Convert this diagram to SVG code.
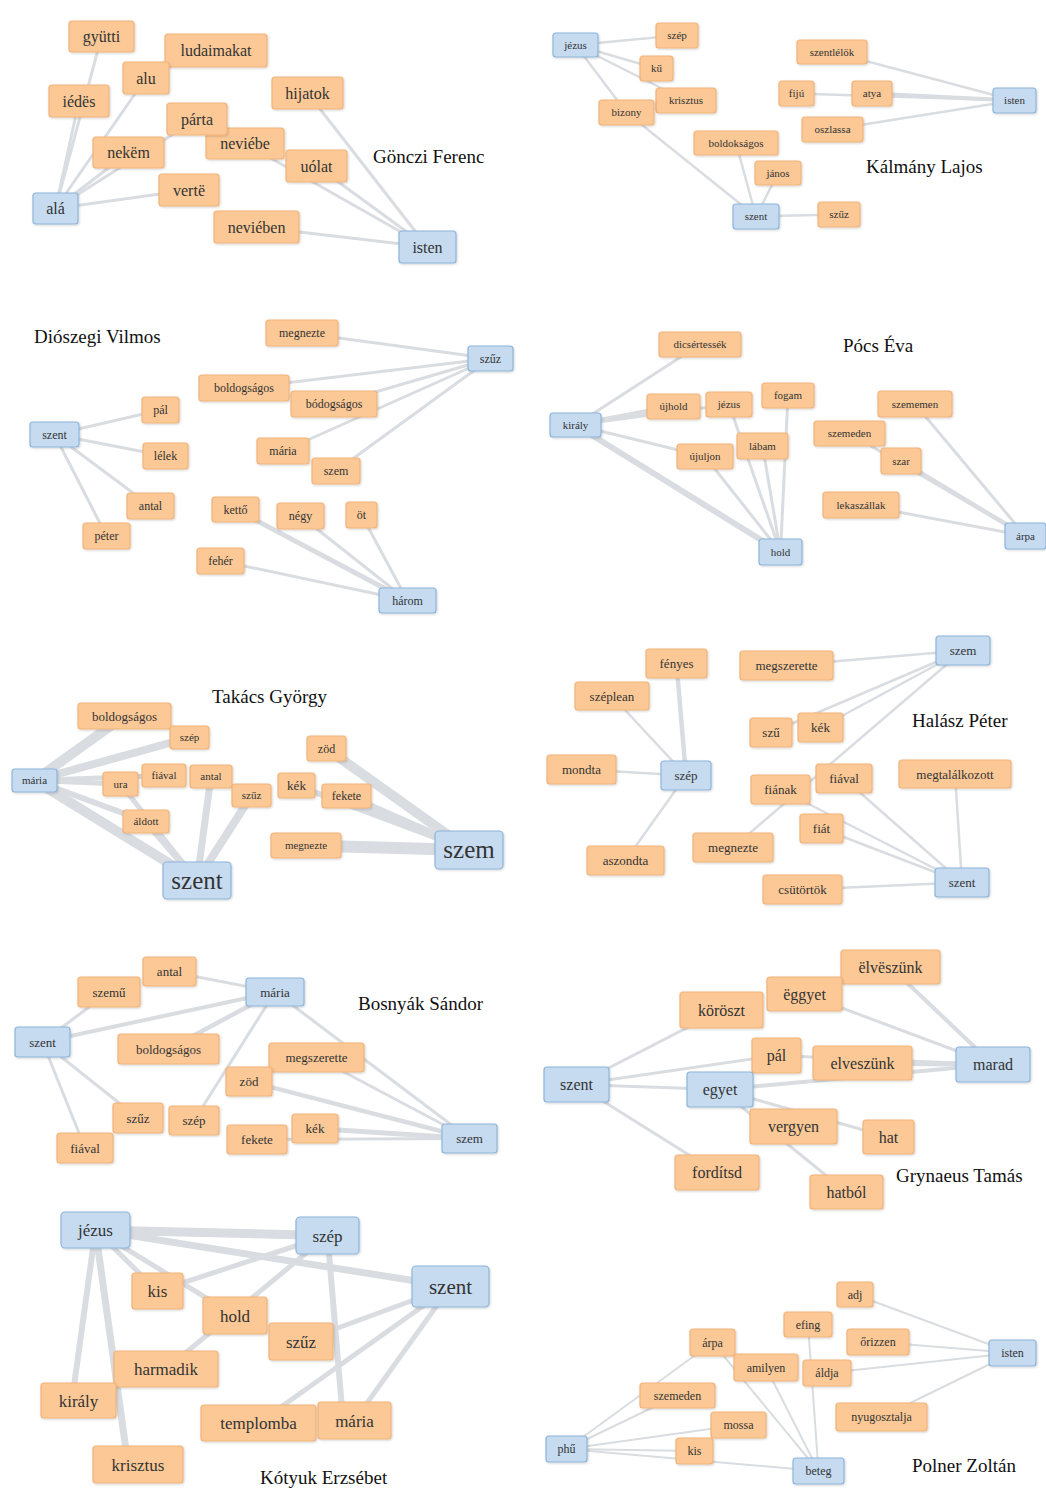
<svg xmlns="http://www.w3.org/2000/svg" width="1046" height="1488" viewBox="0 0 1046 1488">
<defs>
<filter id="sh" x="-10%" y="-10%" width="130%" height="140%"><feDropShadow dx="0.8" dy="1" stdDeviation="0.8" flood-color="#000" flood-opacity="0.18"/></filter>
<style>
.e line{stroke:#d9dde1;stroke-linecap:round}
.o rect{fill:#fcc996;stroke:#f1b37b;stroke-width:1.2;filter:url(#sh)}
.b rect{fill:#c6dbf0;stroke:#8db5db;stroke-width:1.2;filter:url(#sh)}
.o text,.b text{font-family:"Liberation Serif",serif;fill:#333;text-anchor:middle}
.f16 text{font-size:16px}.f11 text{font-size:11px}.f12 text{font-size:12px}.f13 text{font-size:13px}.f17 text{font-size:17px}
g text.t{font-family:"Liberation Serif",serif;font-size:19px;fill:#111}
</style>
</defs>
<rect width="1046" height="1488" fill="#fff"/>
<g id="connectors" class="e">
<g id="c1" stroke-width="3">
<line x1="55.5" y1="208.5" x2="101.5" y2="36.5"/><line x1="55.5" y1="208.5" x2="79" y2="101"/><line x1="55.5" y1="208.5" x2="146" y2="78"/><line x1="55.5" y1="208.5" x2="128.5" y2="152.5"/><line x1="55.5" y1="208.5" x2="197" y2="119"/><line x1="55.5" y1="208.5" x2="189" y2="190"/>
<line x1="427.5" y1="247" x2="307.5" y2="93"/><line x1="427.5" y1="247" x2="245" y2="143.5"/><line x1="427.5" y1="247" x2="316.5" y2="166"/><line x1="427.5" y1="247" x2="256.5" y2="227"/>
</g>
<g id="c2" stroke-width="2.5">
<line x1="575.5" y1="45" x2="677" y2="35.5"/><line x1="575.5" y1="45" x2="656.5" y2="68.5"/><line x1="575.5" y1="45" x2="686" y2="100.5"/><line x1="575.5" y1="45" x2="626.5" y2="112.5"/><line x1="626.5" y1="112.5" x2="756" y2="216.5"/>
<line x1="756" y1="216.5" x2="736" y2="143"/><line x1="756" y1="216.5" x2="778" y2="173"/><line x1="756" y1="216.5" x2="839" y2="214.5"/>
<line x1="1014.5" y1="100.5" x2="832" y2="52"/><line x1="1014.5" y1="100.5" x2="872" y2="93.5" stroke-width="4"/><line x1="1014.5" y1="100.5" x2="796.5" y2="93.5"/><line x1="1014.5" y1="100.5" x2="832.5" y2="129.5"/>
</g>
<g id="c3" stroke-width="3">
<line x1="490.5" y1="358.5" x2="302" y2="333"/><line x1="490.5" y1="358.5" x2="244" y2="388"/><line x1="490.5" y1="358.5" x2="334" y2="404"/><line x1="490.5" y1="358.5" x2="283" y2="451"/><line x1="490.5" y1="358.5" x2="336" y2="471"/>
<line x1="54.5" y1="434.5" x2="160.5" y2="410"/><line x1="54.5" y1="434.5" x2="165.5" y2="456"/><line x1="54.5" y1="434.5" x2="150.5" y2="506"/><line x1="54.5" y1="434.5" x2="106.5" y2="536"/>
<line x1="407.5" y1="600.5" x2="235.5" y2="509.5" stroke-width="5"/><line x1="407.5" y1="600.5" x2="300.5" y2="516"/><line x1="407.5" y1="600.5" x2="361.5" y2="515"/><line x1="407.5" y1="600.5" x2="220.5" y2="561"/>
</g>
<g id="c4" stroke-width="3">
<line x1="575.5" y1="425" x2="700" y2="344.5"/><line x1="575.5" y1="425" x2="673.5" y2="406.5" stroke-width="5"/><line x1="575.5" y1="425" x2="729" y2="404.5"/><line x1="575.5" y1="425" x2="705" y2="456.5"/><line x1="575.5" y1="425" x2="780.5" y2="552" stroke-width="6"/>
<line x1="780.5" y1="552" x2="705" y2="456.5"/><line x1="780.5" y1="552" x2="729" y2="404.5"/><line x1="780.5" y1="552" x2="762.5" y2="446"/><line x1="780.5" y1="552" x2="788" y2="395.5"/>
<line x1="1025.5" y1="536" x2="915" y2="404"/><line x1="1025.5" y1="536" x2="901" y2="461" stroke-width="4.5"/><line x1="1025.5" y1="536" x2="849.5" y2="433.5"/><line x1="1025.5" y1="536" x2="861" y2="505"/>
</g>
<g id="c5">
<line x1="34.5" y1="780.5" x2="124.5" y2="716" stroke-width="10"/><line x1="34.5" y1="780.5" x2="189.5" y2="737.5" stroke-width="8"/><line x1="34.5" y1="780.5" x2="120.5" y2="784" stroke-width="5"/><line x1="34.5" y1="780.5" x2="164" y2="775.5" stroke-width="5"/><line x1="34.5" y1="780.5" x2="197" y2="880.5" stroke-width="10"/><line x1="34.5" y1="780.5" x2="146" y2="821.5" stroke-width="6"/>
<line x1="120.5" y1="784" x2="197" y2="880.5" stroke-width="5"/><line x1="146" y1="821.5" x2="197" y2="880.5" stroke-width="7"/><line x1="211" y1="776.5" x2="197" y2="880.5" stroke-width="7"/><line x1="251.5" y1="795.5" x2="197" y2="880.5" stroke-width="8"/>
<line x1="469" y1="850" x2="326.5" y2="748.5" stroke-width="10"/><line x1="469" y1="850" x2="346.5" y2="796" stroke-width="8"/><line x1="469" y1="850" x2="296.5" y2="785.5" stroke-width="6"/><line x1="469" y1="850" x2="306" y2="845.5" stroke-width="12"/>
</g>
<g id="c6" stroke-width="2.5">
<line x1="686" y1="775.5" x2="676.5" y2="663.5" stroke-width="4.5"/><line x1="686" y1="775.5" x2="612" y2="696"/><line x1="686" y1="775.5" x2="581.5" y2="769.5"/><line x1="686" y1="775.5" x2="625.5" y2="860.5"/>
<line x1="963" y1="650.5" x2="786.5" y2="665.5"/><line x1="963" y1="650.5" x2="771" y2="732.5"/><line x1="963" y1="650.5" x2="820.5" y2="727.5"/><line x1="963" y1="650.5" x2="733" y2="847.5"/>
<line x1="962" y1="882.5" x2="844" y2="778.5"/><line x1="962" y1="882.5" x2="821.5" y2="828.5"/><line x1="962" y1="882.5" x2="780.5" y2="789.5"/><line x1="962" y1="882.5" x2="955" y2="774"/><line x1="962" y1="882.5" x2="802.5" y2="889.5"/>
</g>
<g id="c7" stroke-width="3">
<line x1="275" y1="992" x2="169.5" y2="971.5"/><line x1="275" y1="992" x2="42.5" y2="1042" stroke-width="4"/><line x1="42.5" y1="1042" x2="109" y2="992"/><line x1="275" y1="992" x2="168.5" y2="1049" stroke-width="4.5"/><line x1="275" y1="992" x2="194" y2="1120.5"/><line x1="275" y1="992" x2="469.5" y2="1138.5"/>
<line x1="469.5" y1="1138.5" x2="316.5" y2="1057.5"/><line x1="469.5" y1="1138.5" x2="249" y2="1081.5" stroke-width="4.5"/><line x1="469.5" y1="1138.5" x2="315" y2="1128.5" stroke-width="5"/><line x1="469.5" y1="1138.5" x2="257" y2="1139.5" stroke-width="3"/>
<line x1="42.5" y1="1042" x2="138" y2="1118"/><line x1="42.5" y1="1042" x2="85" y2="1148"/>
</g>
<g id="c8" stroke-width="3">
<line x1="576.5" y1="1084.5" x2="721.5" y2="1010"/><line x1="576.5" y1="1084.5" x2="776.5" y2="1055.5"/><line x1="576.5" y1="1084.5" x2="720" y2="1089.5"/><line x1="576.5" y1="1084.5" x2="717" y2="1172.5"/>
<line x1="720" y1="1089.5" x2="888.5" y2="1137"/><line x1="720" y1="1089.5" x2="846.5" y2="1192"/>
<line x1="993" y1="1064.5" x2="890.5" y2="967" stroke-width="4"/><line x1="993" y1="1064.5" x2="804.5" y2="994"/><line x1="993" y1="1064.5" x2="862.5" y2="1063" stroke-width="5"/><line x1="993" y1="1064.5" x2="720" y2="1089.5" stroke-width="4"/><line x1="993" y1="1064.5" x2="776.5" y2="1055.5"/>
</g>
<g id="c9">
<line x1="95.5" y1="1230" x2="327.5" y2="1235.5" stroke-width="9"/><line x1="95.5" y1="1230" x2="450.5" y2="1286.5" stroke-width="7"/><line x1="95.5" y1="1230" x2="157.5" y2="1291" stroke-width="5"/><line x1="95.5" y1="1230" x2="235" y2="1315.5" stroke-width="5"/><line x1="95.5" y1="1230" x2="72" y2="1400.5" stroke-width="6"/><line x1="95.5" y1="1230" x2="128" y2="1464.5" stroke-width="7"/>
<line x1="327.5" y1="1235.5" x2="157.5" y2="1291" stroke-width="5"/><line x1="327.5" y1="1235.5" x2="166" y2="1369" stroke-width="5"/><line x1="327.5" y1="1235.5" x2="343" y2="1420.5" stroke-width="6"/>
<line x1="450.5" y1="1286.5" x2="301" y2="1341.5" stroke-width="5"/><line x1="450.5" y1="1286.5" x2="258.5" y2="1423" stroke-width="5"/><line x1="450.5" y1="1286.5" x2="354.5" y2="1420.5" stroke-width="5"/>
</g>
<g id="c10" stroke-width="2">
<line x1="1012.5" y1="1353" x2="855" y2="1294.5"/><line x1="1012.5" y1="1353" x2="878" y2="1342"/><line x1="1012.5" y1="1353" x2="827" y2="1373"/><line x1="1012.5" y1="1353" x2="881.5" y2="1417"/>
<line x1="566.5" y1="1449" x2="712.5" y2="1342.5"/><line x1="566.5" y1="1449" x2="677.5" y2="1395.5"/><line x1="566.5" y1="1449" x2="738.5" y2="1425"/><line x1="566.5" y1="1449" x2="694.5" y2="1451"/><line x1="566.5" y1="1449" x2="818.5" y2="1471"/>
<line x1="818.5" y1="1471" x2="712.5" y2="1342.5"/><line x1="818.5" y1="1471" x2="766" y2="1367.5"/><line x1="818.5" y1="1471" x2="808" y2="1324.5"/>
</g>
</g>

<g id="panel1" class="f16">
<text class="t" x="373" y="163">Gönczi Ferenc</text>
<g id="n1-gyutti" class="o"><rect x="69" y="21" width="65" height="31" rx="3"/><text x="101.5" y="42">gyütti</text></g>
<g id="n1-ludaimakat" class="o"><rect x="165" y="34" width="102" height="33" rx="3"/><text x="216" y="56">ludaimakat</text></g>
<g id="n1-alu" class="o"><rect x="123" y="62" width="46" height="32" rx="3"/><text x="146" y="83.5">alu</text></g>
<g id="n1-iedes" class="o"><rect x="49" y="85" width="60" height="32" rx="3"/><text x="79" y="106.5">iédës</text></g>
<g id="n1-hijatok" class="o"><rect x="272" y="77" width="71" height="32" rx="3"/><text x="307.5" y="98.5">hijatok</text></g>
<g id="n1-neviebe" class="o"><rect x="206" y="128" width="78" height="31" rx="3"/><text x="245" y="149">neviébe</text></g>
<g id="n1-parta" class="o"><rect x="167" y="103" width="60" height="32" rx="3"/><text x="197" y="124.5">párta</text></g>
<g id="n1-nekem" class="o"><rect x="93" y="137" width="71" height="31" rx="3"/><text x="128.5" y="158">nekëm</text></g>
<g id="n1-uolat" class="o"><rect x="286" y="150" width="61" height="32" rx="3"/><text x="316.5" y="171.5">uólat</text></g>
<g id="n1-verte" class="o"><rect x="159" y="174" width="60" height="32" rx="3"/><text x="189" y="195.5">vertë</text></g>
<g id="n1-ala" class="b"><rect x="33" y="193" width="45" height="31" rx="3"/><text x="55.5" y="214">alá</text></g>
<g id="n1-neviebne" class="o"><rect x="214" y="211" width="85" height="32" rx="3"/><text x="256.5" y="232.5">neviében</text></g>
<g id="n1-isten" class="b"><rect x="399" y="231" width="57" height="32" rx="3"/><text x="427.5" y="252.5">isten</text></g>
</g>

<g id="panel2" class="f11">
<text class="t" x="866" y="173">Kálmány Lajos</text>
<g id="n2-jezus" class="b"><rect x="553" y="33" width="45" height="24" rx="3"/><text x="575.5" y="48.8">jézus</text></g>
<g id="n2-szep" class="o"><rect x="656" y="23" width="42" height="25" rx="3"/><text x="677" y="39.3">szép</text></g>
<g id="n2-szentlelok" class="o"><rect x="797" y="40" width="70" height="24" rx="3"/><text x="832" y="55.8">szentlélök</text></g>
<g id="n2-ku" class="o"><rect x="640" y="56" width="33" height="25" rx="3"/><text x="656.5" y="72.3">kű</text></g>
<g id="n2-fiju" class="o"><rect x="779" y="81" width="35" height="25" rx="3"/><text x="796.5" y="97.3">fijú</text></g>
<g id="n2-atya" class="o"><rect x="852" y="81" width="40" height="25" rx="3"/><text x="872" y="97.3">atya</text></g>
<g id="n2-isten" class="b"><rect x="993" y="88" width="43" height="25" rx="3"/><text x="1014.5" y="104.3">isten</text></g>
<g id="n2-krisztus" class="o"><rect x="656" y="88" width="60" height="25" rx="3"/><text x="686" y="104.3">krisztus</text></g>
<g id="n2-bizony" class="o"><rect x="599" y="100" width="55" height="25" rx="3"/><text x="626.5" y="116.3">bizony</text></g>
<g id="n2-oszlassa" class="o"><rect x="802" y="117" width="61" height="25" rx="3"/><text x="832.5" y="133.3">oszlassa</text></g>
<g id="n2-boldoksagos" class="o"><rect x="694" y="131" width="84" height="24" rx="3"/><text x="736" y="146.8">boldokságos</text></g>
<g id="n2-janos" class="o"><rect x="755" y="161" width="46" height="24" rx="3"/><text x="778" y="176.8">jános</text></g>
<g id="n2-szent" class="b"><rect x="733" y="204" width="46" height="25" rx="3"/><text x="756" y="220.3">szent</text></g>
<g id="n2-szuz" class="o"><rect x="818" y="202" width="42" height="25" rx="3"/><text x="839" y="218.3">szűz</text></g>
</g>

<g id="panel3" class="f12">
<text class="t" x="34" y="343">Diószegi Vilmos</text>
<g id="n3-megnezte" class="o"><rect x="266" y="320" width="72" height="26" rx="3"/><text x="302" y="337.1">megnezte</text></g>
<g id="n3-szuz" class="b"><rect x="468" y="346" width="45" height="25" rx="3"/><text x="490.5" y="362.6">szűz</text></g>
<g id="n3-boldogsagos" class="o"><rect x="199" y="375" width="90" height="26" rx="3"/><text x="244" y="392.1">boldogságos</text></g>
<g id="n3-bodogsagos" class="o"><rect x="291" y="391" width="86" height="26" rx="3"/><text x="334" y="408.1">bódogságos</text></g>
<g id="n3-pal" class="o"><rect x="142" y="397" width="37" height="26" rx="3"/><text x="160.5" y="414.1">pál</text></g>
<g id="n3-szent" class="b"><rect x="30" y="422" width="49" height="25" rx="3"/><text x="54.5" y="438.6">szent</text></g>
<g id="n3-lelek" class="o"><rect x="143" y="443" width="45" height="26" rx="3"/><text x="165.5" y="460.1">lélek</text></g>
<g id="n3-maria" class="o"><rect x="257" y="438" width="52" height="26" rx="3"/><text x="283" y="455.1">mária</text></g>
<g id="n3-szem" class="o"><rect x="312" y="458" width="48" height="26" rx="3"/><text x="336" y="475.1">szem</text></g>
<g id="n3-antal" class="o"><rect x="127" y="493" width="47" height="26" rx="3"/><text x="150.5" y="510.1">antal</text></g>
<g id="n3-ketto" class="o"><rect x="212" y="497" width="47" height="25" rx="3"/><text x="235.5" y="513.6">kettő</text></g>
<g id="n3-negy" class="o"><rect x="277" y="503" width="47" height="26" rx="3"/><text x="300.5" y="520.1">négy</text></g>
<g id="n3-ot" class="o"><rect x="346" y="502" width="31" height="26" rx="3"/><text x="361.5" y="519.1">öt</text></g>
<g id="n3-peter" class="o"><rect x="83" y="523" width="47" height="26" rx="3"/><text x="106.5" y="540.1">péter</text></g>
<g id="n3-feher" class="o"><rect x="197" y="548" width="47" height="26" rx="3"/><text x="220.5" y="565.1">fehér</text></g>
<g id="n3-harom" class="b"><rect x="379" y="588" width="57" height="25" rx="3"/><text x="407.5" y="604.6">három</text></g>
</g>

<g id="panel4" class="f11">
<text class="t" x="843" y="352">Pócs Éva</text>
<g id="n4-dicsertessek" class="o"><rect x="659" y="332" width="82" height="25" rx="3"/><text x="700" y="348.3">dicsértessék</text></g>
<g id="n4-fogam" class="o"><rect x="762" y="383" width="52" height="25" rx="3"/><text x="788" y="399.3">fogam</text></g>
<g id="n4-szememen" class="o"><rect x="878" y="391" width="74" height="26" rx="3"/><text x="915" y="407.8">szememen</text></g>
<g id="n4-ujhold" class="o"><rect x="647" y="394" width="53" height="25" rx="3"/><text x="673.5" y="410.3">újhold</text></g>
<g id="n4-jezus" class="o"><rect x="706" y="392" width="46" height="25" rx="3"/><text x="729" y="408.3">jézus</text></g>
<g id="n4-kiraly" class="b"><rect x="550" y="413" width="51" height="24" rx="3"/><text x="575.5" y="428.8">király</text></g>
<g id="n4-szemeden" class="o"><rect x="814" y="421" width="71" height="25" rx="3"/><text x="849.5" y="437.3">szemeden</text></g>
<g id="n4-labam" class="o"><rect x="737" y="433" width="51" height="26" rx="3"/><text x="762.5" y="449.8">lábam</text></g>
<g id="n4-ujuljon" class="o"><rect x="677" y="444" width="56" height="25" rx="3"/><text x="705" y="460.3">újuljon</text></g>
<g id="n4-szar" class="o"><rect x="881" y="448" width="40" height="26" rx="3"/><text x="901" y="464.8">szar</text></g>
<g id="n4-lekaszallak" class="o"><rect x="823" y="492" width="76" height="26" rx="3"/><text x="861" y="508.8">lekaszállak</text></g>
<g id="n4-hold" class="b"><rect x="759" y="539" width="43" height="26" rx="3"/><text x="780.5" y="555.8">hold</text></g>
<g id="n4-arpa" class="b"><rect x="1005" y="523" width="41" height="26" rx="3"/><text x="1025.5" y="539.8">árpa</text></g>
</g>

<g id="panel5" class="f11">
<text class="t" x="212" y="703">Takács György</text>
<g id="n5-boldogsagos" class="o"><rect x="78" y="703" width="93" height="26" rx="3"/><text x="124.5" y="720.5" style="font-size:13px">boldogságos</text></g>
<g id="n5-szep" class="o"><rect x="170" y="726" width="39" height="23" rx="3"/><text x="189.5" y="741">szép</text></g>
<g id="n5-zod" class="o"><rect x="307" y="736" width="39" height="25" rx="3"/><text x="326.5" y="752.7" style="font-size:12px">zöd</text></g>
<g id="n5-maria" class="b"><rect x="12" y="769" width="45" height="23" rx="3"/><text x="34.5" y="784">mária</text></g>
<g id="n5-ura" class="o"><rect x="103" y="772" width="35" height="24" rx="3"/><text x="120.5" y="787.5">ura</text></g>
<g id="n5-fiaval" class="o"><rect x="142" y="764" width="44" height="23" rx="3"/><text x="164" y="779">fiával</text></g>
<g id="n5-antal" class="o"><rect x="190" y="765" width="42" height="23" rx="3"/><text x="211" y="780">antal</text></g>
<g id="n5-szuz" class="o"><rect x="232" y="784" width="39" height="23" rx="3"/><text x="251.5" y="799">szűz</text></g>
<g id="n5-kek" class="o"><rect x="278" y="773" width="37" height="25" rx="3"/><text x="296.5" y="790" style="font-size:13px">kék</text></g>
<g id="n5-fekete" class="o"><rect x="322" y="784" width="49" height="24" rx="3"/><text x="346.5" y="800.2" style="font-size:12px">fekete</text></g>
<g id="n5-aldott" class="o"><rect x="123" y="810" width="46" height="23" rx="3"/><text x="146" y="825">áldott</text></g>
<g id="n5-megnezte" class="o"><rect x="271" y="833" width="70" height="25" rx="3"/><text x="306" y="849.3">megnezte</text></g>
<g id="n5-szem" class="b"><rect x="435" y="831" width="68" height="38" rx="4"/><text x="469" y="858.3" style="font-size:25px">szem</text></g>
<g id="n5-szent" class="b"><rect x="163" y="862" width="68" height="37" rx="4"/><text x="197" y="888.8" style="font-size:25px">szent</text></g>
</g>

<g id="panel6" class="f13">
<text class="t" x="912" y="727">Halász Péter</text>
<g id="n6-szem" class="b"><rect x="936" y="636" width="54" height="29" rx="3"/><text x="963" y="655">szem</text></g>
<g id="n6-fenyes" class="o"><rect x="646" y="649" width="61" height="29" rx="3"/><text x="676.5" y="668">fényes</text></g>
<g id="n6-megszerette" class="o"><rect x="740" y="651" width="93" height="29" rx="3"/><text x="786.5" y="670">megszerette</text></g>
<g id="n6-szeplean" class="o"><rect x="575" y="682" width="74" height="28" rx="3"/><text x="612" y="700.5">széplean</text></g>
<g id="n6-szu" class="o"><rect x="750" y="718" width="42" height="29" rx="3"/><text x="771" y="737">szű</text></g>
<g id="n6-kek" class="o"><rect x="798" y="713" width="45" height="29" rx="3"/><text x="820.5" y="732">kék</text></g>
<g id="n6-mondta" class="o"><rect x="547" y="755" width="69" height="29" rx="3"/><text x="581.5" y="774">mondta</text></g>
<g id="n6-szep" class="b"><rect x="661" y="761" width="50" height="29" rx="3"/><text x="686" y="780">szép</text></g>
<g id="n6-megtalalkozott" class="o"><rect x="899" y="760" width="112" height="28" rx="3"/><text x="955" y="778.5">megtalálkozott</text></g>
<g id="n6-fiaval" class="o"><rect x="816" y="764" width="56" height="29" rx="3"/><text x="844" y="783">fiával</text></g>
<g id="n6-fianak" class="o"><rect x="751" y="775" width="59" height="29" rx="3"/><text x="780.5" y="794">fiának</text></g>
<g id="n6-fiat" class="o"><rect x="800" y="814" width="43" height="29" rx="3"/><text x="821.5" y="833">fiát</text></g>
<g id="n6-megnezte" class="o"><rect x="693" y="833" width="80" height="29" rx="3"/><text x="733" y="852">megnezte</text></g>
<g id="n6-aszondta" class="o"><rect x="587" y="846" width="77" height="29" rx="3"/><text x="625.5" y="865">aszondta</text></g>
<g id="n6-szent" class="b"><rect x="935" y="868" width="54" height="29" rx="3"/><text x="962" y="887">szent</text></g>
<g id="n6-csutortok" class="o"><rect x="763" y="875" width="79" height="29" rx="3"/><text x="802.5" y="894">csütörtök</text></g>
</g>

<g id="panel7" class="f13">
<text class="t" x="358" y="1010">Bosnyák Sándor</text>
<g id="n7-antal" class="o"><rect x="143" y="957" width="53" height="29" rx="3"/><text x="169.5" y="976">antal</text></g>
<g id="n7-szemu" class="o"><rect x="78" y="977" width="62" height="30" rx="3"/><text x="109" y="996.5">szemű</text></g>
<g id="n7-maria" class="b"><rect x="246" y="978" width="58" height="28" rx="3"/><text x="275" y="996.5">mária</text></g>
<g id="n7-szent" class="b"><rect x="15" y="1027" width="55" height="30" rx="3"/><text x="42.5" y="1046.5">szent</text></g>
<g id="n7-boldogsagos" class="o"><rect x="118" y="1034" width="101" height="30" rx="3"/><text x="168.5" y="1053.5">boldogságos</text></g>
<g id="n7-megszerette" class="o"><rect x="269" y="1043" width="95" height="29" rx="3"/><text x="316.5" y="1062">megszerette</text></g>
<g id="n7-zod" class="o"><rect x="226" y="1067" width="46" height="29" rx="3"/><text x="249" y="1086">zöd</text></g>
<g id="n7-szuz" class="o"><rect x="113" y="1103" width="50" height="30" rx="3"/><text x="138" y="1122.5">szűz</text></g>
<g id="n7-szep" class="o"><rect x="169" y="1106" width="50" height="29" rx="3"/><text x="194" y="1125">szép</text></g>
<g id="n7-fekete" class="o"><rect x="227" y="1125" width="60" height="29" rx="3"/><text x="257" y="1144">fekete</text></g>
<g id="n7-kek" class="o"><rect x="292" y="1114" width="46" height="29" rx="3"/><text x="315" y="1133">kék</text></g>
<g id="n7-fiaval" class="o"><rect x="57" y="1133" width="56" height="30" rx="3"/><text x="85" y="1152.5">fiával</text></g>
<g id="n7-szem" class="b"><rect x="442" y="1124" width="55" height="29" rx="3"/><text x="469.5" y="1143">szem</text></g>
</g>

<g id="panel8" class="f16">
<text class="t" x="896" y="1182">Grynaeus Tamás</text>
<g id="n8-elveszunk1" class="o"><rect x="841" y="950" width="99" height="34" rx="3"/><text x="890.5" y="972.5">ëlvëszünk</text></g>
<g id="n8-eggyet" class="o"><rect x="767" y="977" width="75" height="34" rx="3"/><text x="804.5" y="999.5">ëggyet</text></g>
<g id="n8-koroszt" class="o"><rect x="680" y="992" width="83" height="36" rx="3"/><text x="721.5" y="1015.5">köröszt</text></g>
<g id="n8-pal" class="o"><rect x="752" y="1038" width="49" height="35" rx="3"/><text x="776.5" y="1061">pál</text></g>
<g id="n8-elveszunk" class="o"><rect x="813" y="1046" width="99" height="34" rx="3"/><text x="862.5" y="1068.5">elveszünk</text></g>
<g id="n8-marad" class="b"><rect x="956" y="1047" width="74" height="35" rx="3"/><text x="993" y="1070">marad</text></g>
<g id="n8-szent" class="b"><rect x="544" y="1067" width="65" height="35" rx="3"/><text x="576.5" y="1090">szent</text></g>
<g id="n8-egyet" class="b"><rect x="687" y="1072" width="66" height="35" rx="3"/><text x="720" y="1095">egyet</text></g>
<g id="n8-vergyen" class="o"><rect x="750" y="1109" width="87" height="35" rx="3"/><text x="793.5" y="1132">vergyen</text></g>
<g id="n8-hat" class="o"><rect x="863" y="1120" width="51" height="34" rx="3"/><text x="888.5" y="1142.5">hat</text></g>
<g id="n8-fordits" class="o"><rect x="675" y="1155" width="84" height="35" rx="3"/><text x="717" y="1178">fordítsd</text></g>
<g id="n8-hatbol" class="o"><rect x="810" y="1175" width="73" height="34" rx="3"/><text x="846.5" y="1197.5">hatból</text></g>
</g>

<g id="panel9" class="f17">
<text class="t" x="260" y="1484">Kótyuk Erzsébet</text>
<g id="n9-jezus" class="b"><rect x="61" y="1212" width="69" height="36" rx="4"/><text x="95.5" y="1236">jézus</text></g>
<g id="n9-szep" class="b"><rect x="296" y="1217" width="63" height="37" rx="4"/><text x="327.5" y="1241.5">szép</text></g>
<g id="n9-szent" class="b"><rect x="412" y="1266" width="77" height="41" rx="4"/><text x="450.5" y="1293.7" style="font-size:21px">szent</text></g>
<g id="n9-kis" class="o"><rect x="132" y="1273" width="51" height="36" rx="3"/><text x="157.5" y="1297">kis</text></g>
<g id="n9-hold" class="o"><rect x="203" y="1297" width="64" height="37" rx="3"/><text x="235" y="1321.5">hold</text></g>
<g id="n9-szuz" class="o"><rect x="269" y="1323" width="64" height="37" rx="3"/><text x="301" y="1347.5">szűz</text></g>
<g id="n9-harmadik" class="o"><rect x="114" y="1351" width="104" height="36" rx="3"/><text x="166" y="1375">harmadik</text></g>
<g id="n9-kiraly" class="o"><rect x="41" y="1383" width="75" height="35" rx="3"/><text x="78.5" y="1406.5">király</text></g>
<g id="n9-templomba" class="o"><rect x="201" y="1405" width="115" height="36" rx="3"/><text x="258.5" y="1429">templomba</text></g>
<g id="n9-maria" class="o"><rect x="318" y="1402" width="73" height="37" rx="3"/><text x="354.5" y="1426.5">mária</text></g>
<g id="n9-krisztus" class="o"><rect x="93" y="1446" width="90" height="37" rx="3"/><text x="138" y="1470.5">krisztus</text></g>
</g>

<g id="panel10" class="f12">
<text class="t" x="912" y="1472">Polner Zoltán</text>
<g id="n10-adj" class="o"><rect x="837" y="1282" width="36" height="25" rx="3"/><text x="855" y="1298.6">adj</text></g>
<g id="n10-efing" class="o"><rect x="784" y="1312" width="48" height="25" rx="3"/><text x="808" y="1328.6">efing</text></g>
<g id="n10-orizzen" class="o"><rect x="847" y="1329" width="62" height="26" rx="3"/><text x="878" y="1346.1">őrizzen</text></g>
<g id="n10-isten" class="b"><rect x="989" y="1340" width="47" height="26" rx="3"/><text x="1012.5" y="1357.1">isten</text></g>
<g id="n10-arpa" class="o"><rect x="690" y="1329" width="45" height="27" rx="3"/><text x="712.5" y="1346.6">árpa</text></g>
<g id="n10-amilyen" class="o"><rect x="734" y="1354" width="64" height="27" rx="3"/><text x="766" y="1371.6">amilyen</text></g>
<g id="n10-aldja" class="o"><rect x="803" y="1360" width="48" height="26" rx="3"/><text x="827" y="1377.1">áldja</text></g>
<g id="n10-szemeden" class="o"><rect x="640" y="1383" width="75" height="25" rx="3"/><text x="677.5" y="1399.6">szemeden</text></g>
<g id="n10-nyugosztalja" class="o"><rect x="836" y="1403" width="91" height="28" rx="3"/><text x="881.5" y="1421.1">nyugosztalja</text></g>
<g id="n10-mossa" class="o"><rect x="711" y="1412" width="55" height="26" rx="3"/><text x="738.5" y="1429.1">mossa</text></g>
<g id="n10-phu" class="b"><rect x="546" y="1436" width="41" height="26" rx="3"/><text x="566.5" y="1453.1">phű</text></g>
<g id="n10-kis" class="o"><rect x="676" y="1438" width="37" height="26" rx="3"/><text x="694.5" y="1455.1">kis</text></g>
<g id="n10-beteg" class="b"><rect x="793" y="1458" width="51" height="26" rx="3"/><text x="818.5" y="1475.1">beteg</text></g>
</g>
</svg>
